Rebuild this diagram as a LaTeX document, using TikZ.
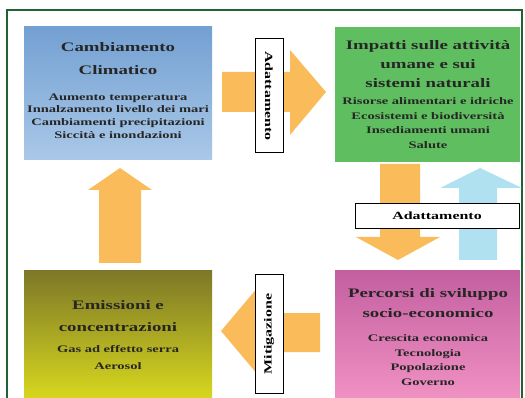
\documentclass[tikz,border=0pt]{standalone}
\usepackage{fontspec}
\setmainfont[FakeStretch=1.45]{Liberation Serif}
\definecolor{framegreen}{RGB}{30,100,50}
\definecolor{arroworange}{RGB}{250,188,90}
\definecolor{arrowblue}{RGB}{175,225,240}
\definecolor{bluetop}{RGB}{115,160,210}
\definecolor{bluebot}{RGB}{170,200,232}
\definecolor{greenbox}{RGB}{95,190,95}
\definecolor{olivetop}{RGB}{125,120,40}
\definecolor{olivebot}{RGB}{215,215,30}
\definecolor{pinktop}{RGB}{195,95,160}
\definecolor{pinkbot}{RGB}{240,145,195}
\begin{document}
\begin{tikzpicture}[x=1pt,y=-1pt,
  boxtxt/.style={align=center,font=\bfseries\fontsize{10}{#1}\selectfont,text=black!85,inner sep=0pt},
  titletxt/.style={align=center,font=\bfseries\fontsize{13}{#1}\selectfont,text=black!85,inner sep=0pt},
  labelbox/.style={draw=black,line width=1pt,fill=white,inner sep=2pt,font=\bfseries\fontsize{11}{13}\selectfont}]
\useasboundingbox (0,0) rectangle (525,398);
\fill[white] (0,0) rectangle (525,398);
\draw[framegreen,line width=1.2pt] (7,10) rectangle (522,402);
% boxes
\shade[top color=bluetop,bottom color=bluebot] (24,27) rectangle (212,160);
\fill[greenbox] (335,27) rectangle (520,162);
\shade[top color=olivetop,bottom color=olivebot] (24,271) rectangle (212,398);
\shade[top color=pinktop,bottom color=pinkbot] (335,271) rectangle (520,398);
% arrows
\fill[arroworange] (222,72) -- (290,72) -- (290,50) -- (326,92) -- (290,135) -- (290,112) -- (222,112) -- cycle;
\fill[arroworange] (320,313) -- (258,313) -- (258,287) -- (221,331) -- (258,375) -- (258,352) -- (320,352) -- cycle;
\fill[arroworange] (99,263) -- (99,190) -- (88,190) -- (120,168) -- (152,190) -- (141,190) -- (141,263) -- cycle;
\fill[arroworange] (380,164) -- (420,164) -- (420,237) -- (440,237) -- (398,260) -- (356,237) -- (380,237) -- cycle;
\fill[arrowblue] (459,260) -- (497,260) -- (497,188) -- (522,188) -- (480,168) -- (440,188) -- (459,188) -- cycle;
% texts
\node[titletxt=23] (cct) at (118,59) {Cambiamento\\Climatico};
\node[boxtxt=12.7] (ccd) at (118,116) {Aumento temperatura\\Innalzamento livello dei mari\\Cambiamenti precipitazioni\\Siccità e inondazioni};
\node[titletxt=19] (impt) at (428,64) {Impatti sulle attività\\umane e sui\\sistemi naturali};
\node[boxtxt=14.5] (impd) at (428,123) {Risorse alimentari e idriche\\Ecosistemi e biodiversità\\Insediamenti umani\\Salute};
\node[titletxt=20] (pert) at (428,303) {Percorsi di sviluppo\\socio-economico};
\node[boxtxt=14.7] (perd) at (428,360) {Crescita economica\\Tecnologia\\Popolazione\\Governo};
\node[titletxt=22] (emit) at (118,316) {Emissioni e\\concentrazioni};
\node[boxtxt=17] (emid) at (118,358) {Gas ad effetto serra\\Aerosol};
% labels
\node[labelbox,rotate=-90,minimum width=114pt,minimum height=28pt] (ad1) at (269,96) {Adattamento};
\node[labelbox,rotate=90,minimum width=118pt,minimum height=28pt] (mit) at (269,334) {Mitigazione};
\node[labelbox,minimum width=164pt,minimum height=25pt] (ad2) at (437,216) {Adattamento};
\end{tikzpicture}
\end{document}
